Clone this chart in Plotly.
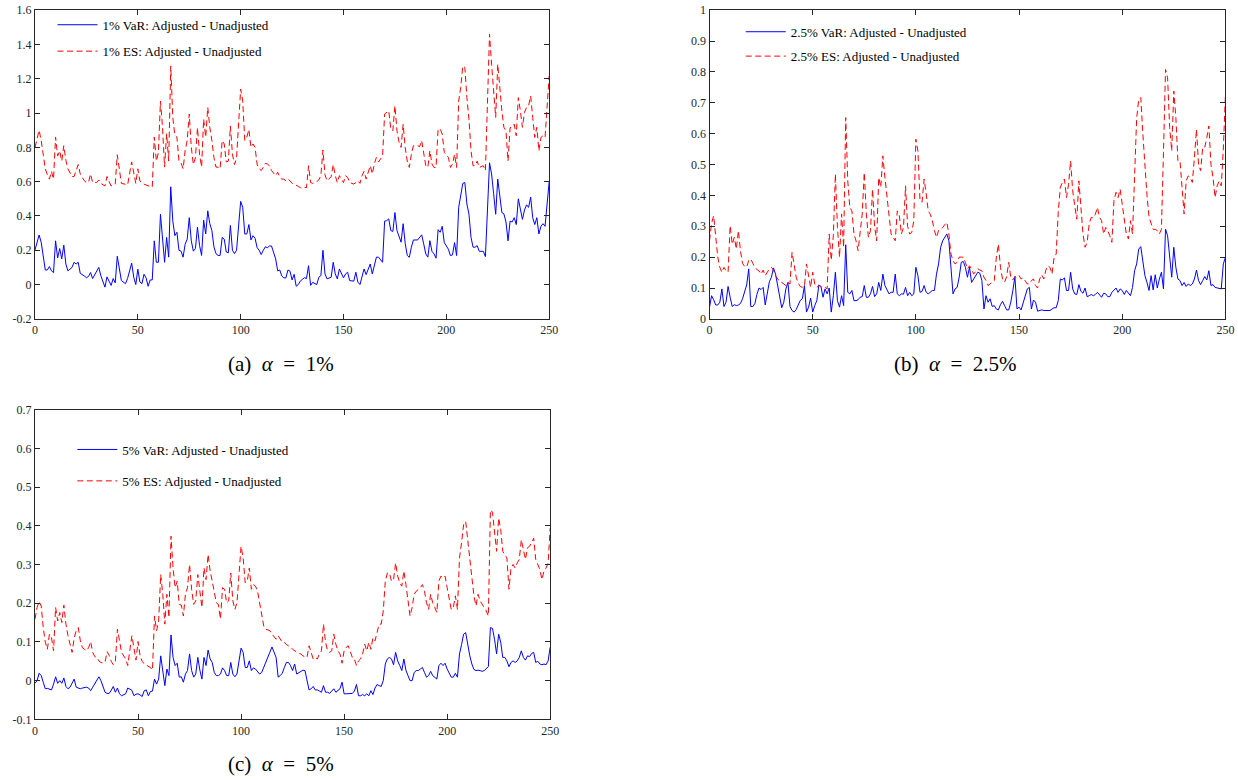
import plotly.graph_objects as go

# ---------------- Panel (a): alpha = 1% ----------------
day_a = [0, 2, 3, 5, 6, 7, 8, 9, 10, 11, 12, 13, 14, 15, 16, 18, 19, 20, 21, 22,
         24, 25, 26, 27, 28, 30, 31, 32, 34, 35, 37, 38, 39, 40, 41, 42, 44, 45, 47, 48,
         49, 50, 51, 52, 53, 54, 55, 56, 57, 58, 59, 60, 61, 62, 63, 64, 65, 66, 67, 68,
         69, 70, 71, 72, 73, 74, 75, 76, 77, 78, 79, 80, 81, 82, 83, 84, 85, 86, 87, 88,
         89, 90, 91, 92, 93, 94, 95, 96, 97, 98, 100, 101, 102, 103, 104, 105, 106, 107, 108, 109,
         110, 111, 112, 113, 114, 115, 117, 118, 119, 120, 121, 122, 123, 124, 125, 126, 127, 128, 129, 130,
         131, 132, 133, 134, 135, 137, 138, 139, 140, 141, 142, 144, 145, 146, 147, 148, 150, 151, 152, 153,
         155, 156, 157, 158, 159, 160, 161, 163, 164, 165, 166, 167, 169, 170, 171, 172, 173, 174, 175, 176,
         177, 178, 179, 180, 181, 182, 183, 184, 186, 187, 188, 189, 190, 191, 192, 193, 194, 195, 196, 197,
         198, 199, 201, 202, 203, 204, 205, 206, 207, 208, 209, 210, 211, 212, 213, 214, 215, 216, 218, 219,
         221, 222, 223, 224, 225, 226, 227, 228, 229, 230, 231, 232, 233, 234, 235, 236, 237, 238, 239, 240,
         241, 242, 243, 244, 245, 246, 247, 248, 249, 250]
var_a = [0.202, 0.289, 0.247, 0.085, 0.085, 0.105, 0.080, 0.070, 0.255, 0.155, 0.210, 0.150, 0.230, 0.120, 0.080, 0.100, 0.130, 0.120, 0.130, 0.065,
         0.050, 0.040, 0.047, 0.070, 0.035, 0.080, 0.100, 0.052, -0.015, 0.045, -0.005, 0.035, 0.010, 0.165, 0.080, 0.023, 0.005, 0.035, 0.125, 0.043,
         0.000, 0.090, 0.015, 0.005, 0.060, 0.039, -0.010, 0.027, 0.027, 0.255, 0.130, 0.130, 0.410, 0.255, 0.130, 0.275, 0.160, 0.570, 0.370, 0.285,
         0.305, 0.200, 0.195, 0.160, 0.235, 0.265, 0.390, 0.255, 0.195, 0.210, 0.335, 0.228, 0.170, 0.375, 0.295, 0.430, 0.355, 0.315, 0.220, 0.180,
         0.170, 0.170, 0.275, 0.265, 0.190, 0.185, 0.345, 0.200, 0.180, 0.200, 0.485, 0.450, 0.295, 0.295, 0.350, 0.260, 0.285, 0.270, 0.215, 0.200,
         0.175, 0.200, 0.220, 0.215, 0.225, 0.225, 0.150, 0.080, 0.085, 0.050, 0.039, 0.039, 0.085, 0.078, 0.027, 0.060, -0.010, 0.000, 0.020, 0.030,
         0.040, 0.035, 0.110, -0.005, 0.013, 0.000, 0.043, 0.052, 0.200, 0.062, 0.033, 0.043, 0.130, 0.062, 0.033, 0.091, 0.039, 0.062, 0.072, 0.023,
         0.020, 0.072, 0.014, 0.000, 0.043, 0.091, 0.058, 0.120, 0.062, 0.120, 0.160, 0.160, 0.130, 0.370, 0.373, 0.383, 0.315, 0.310, 0.420, 0.315,
         0.285, 0.247, 0.355, 0.240, 0.170, 0.159, 0.218, 0.260, 0.260, 0.272, 0.290, 0.237, 0.179, 0.160, 0.256, 0.194, 0.179, 0.154, 0.320, 0.305,
         0.340, 0.245, 0.206, 0.169, 0.173, 0.245, 0.169, 0.450, 0.510, 0.590, 0.595, 0.470, 0.410, 0.275, 0.218, 0.218, 0.227, 0.194, 0.194, 0.163,
         0.710, 0.645, 0.530, 0.410, 0.615, 0.510, 0.420, 0.412, 0.365, 0.255, 0.370, 0.365, 0.390, 0.350, 0.500, 0.440, 0.380, 0.435, 0.465, 0.450,
         0.510, 0.390, 0.350, 0.390, 0.295, 0.340, 0.355, 0.340, 0.490, 0.600]
es_a = [0.800, 0.900, 0.840, 0.675, 0.640, 0.615, 0.660, 0.615, 0.860, 0.750, 0.780, 0.720, 0.810, 0.725, 0.675, 0.630, 0.630, 0.665, 0.700, 0.645,
        0.605, 0.595, 0.595, 0.645, 0.595, 0.595, 0.610, 0.590, 0.575, 0.630, 0.575, 0.580, 0.585, 0.757, 0.655, 0.590, 0.585, 0.580, 0.715, 0.645,
        0.590, 0.675, 0.605, 0.590, 0.585, 0.580, 0.575, 0.573, 0.567, 0.860, 0.720, 0.771, 1.070, 0.917, 0.685, 0.880, 0.720, 1.275, 0.975, 0.870,
        0.860, 0.720, 0.710, 0.675, 0.780, 0.840, 0.995, 0.800, 0.700, 0.740, 0.915, 0.761, 0.685, 0.965, 0.860, 1.033, 0.915, 0.840, 0.740, 0.685,
        0.685, 0.675, 0.840, 0.820, 0.715, 0.720, 0.925, 0.760, 0.700, 0.740, 1.140, 1.070, 0.840, 0.860, 0.905, 0.800, 0.820, 0.800, 0.700, 0.675,
        0.665, 0.685, 0.707, 0.703, 0.693, 0.665, 0.635, 0.655, 0.625, 0.615, 0.615, 0.605, 0.615, 0.605, 0.590, 0.585, 0.580, 0.573, 0.565, 0.562,
        0.567, 0.565, 0.693, 0.595, 0.590, 0.600, 0.610, 0.635, 0.785, 0.640, 0.605, 0.629, 0.700, 0.635, 0.595, 0.635, 0.595, 0.635, 0.625, 0.595,
        0.586, 0.595, 0.605, 0.590, 0.635, 0.660, 0.615, 0.693, 0.645, 0.705, 0.742, 0.715, 0.750, 0.995, 1.004, 1.013, 0.907, 0.897, 1.043, 0.897,
        0.830, 0.800, 0.935, 0.800, 0.720, 0.683, 0.760, 0.810, 0.810, 0.804, 0.840, 0.771, 0.693, 0.683, 0.780, 0.703, 0.683, 0.683, 0.907, 0.907,
        0.878, 0.771, 0.742, 0.683, 0.703, 0.760, 0.683, 1.070, 1.150, 1.275, 1.265, 1.090, 0.965, 0.780, 0.693, 0.693, 0.720, 0.683, 0.693, 0.665,
        1.460, 1.285, 1.110, 0.975, 1.285, 1.130, 1.013, 0.917, 0.897, 0.720, 0.915, 0.917, 0.935, 0.868, 1.090, 1.013, 0.917, 1.004, 1.033, 1.043,
        1.100, 0.975, 0.858, 0.917, 0.780, 0.858, 0.868, 0.858, 1.013, 1.217]

# ---------------- Panel (b): alpha = 2.5% ----------------
day_b = list(range(0, 251))
var_b = [0.038, 0.075, 0.062, 0.045, 0.045, 0.054, 0.097, 0.040, 0.054, 0.105,
         0.070, 0.040, 0.046, 0.043, 0.045, 0.050, 0.065, 0.085, 0.110, 0.162,
         0.040, 0.040, 0.050, 0.080, 0.100, 0.095, 0.102, 0.045, 0.080, 0.120,
         0.135, 0.165, 0.145, 0.110, 0.070, 0.036, 0.054, 0.097, 0.118, 0.040,
         0.027, 0.022, 0.030, 0.045, 0.060, 0.065, 0.108, 0.022, 0.038, 0.067,
         0.022, 0.043, 0.059, 0.110, 0.105, 0.070, 0.097, 0.081, 0.100, 0.022,
         0.075, 0.151, 0.059, 0.038, 0.075, 0.043, 0.240, 0.086, 0.081, 0.092,
         0.059, 0.059, 0.062, 0.070, 0.072, 0.108, 0.070, 0.070, 0.081, 0.105,
         0.072, 0.081, 0.118, 0.092, 0.145, 0.108, 0.092, 0.081, 0.086, 0.086,
         0.145, 0.081, 0.075, 0.081, 0.080, 0.102, 0.075, 0.086, 0.075, 0.081,
         0.167, 0.140, 0.086, 0.089, 0.108, 0.086, 0.081, 0.086, 0.092, 0.092,
         0.145, 0.178, 0.232, 0.253, 0.264, 0.275, 0.253, 0.167, 0.081, 0.097,
         0.102, 0.135, 0.183, 0.186, 0.167, 0.135, 0.167, 0.118, 0.129, 0.140,
         0.151, 0.148, 0.124, 0.032, 0.075, 0.054, 0.065, 0.040, 0.043, 0.032,
         0.029, 0.046, 0.057, 0.043, 0.029, 0.029, 0.054, 0.092, 0.137, 0.032,
         0.038, 0.029, 0.054, 0.081, 0.097, 0.102, 0.032, 0.061, 0.054, 0.025,
         0.027, 0.029, 0.027, 0.027, 0.029, 0.027, 0.032, 0.036, 0.036, 0.059,
         0.129, 0.126, 0.133, 0.092, 0.092, 0.151, 0.097, 0.081, 0.079, 0.111,
         0.089, 0.083, 0.100, 0.072, 0.075, 0.079, 0.075, 0.079, 0.086, 0.079,
         0.070, 0.083, 0.081, 0.072, 0.072, 0.086, 0.094, 0.100, 0.086, 0.097,
         0.092, 0.079, 0.092, 0.083, 0.075, 0.102, 0.156, 0.178, 0.226, 0.234,
         0.178, 0.140, 0.118, 0.092, 0.140, 0.094, 0.143, 0.100, 0.129, 0.151,
         0.097, 0.291, 0.269, 0.194, 0.135, 0.232, 0.167, 0.129, 0.124, 0.108,
         0.118, 0.105, 0.113, 0.108, 0.113, 0.129, 0.158, 0.124, 0.111, 0.124,
         0.137, 0.126, 0.156, 0.108, 0.111, 0.102, 0.100, 0.097, 0.097, 0.178,
         0.199]
es_b = [0.253, 0.310, 0.334, 0.275, 0.200, 0.167, 0.151, 0.167, 0.156, 0.151,
        0.302, 0.242, 0.264, 0.226, 0.286, 0.220, 0.180, 0.170, 0.168, 0.189,
        0.194, 0.180, 0.165, 0.160, 0.155, 0.145, 0.158, 0.140, 0.150, 0.162,
        0.167, 0.158, 0.140, 0.128, 0.120, 0.118, 0.113, 0.108, 0.118, 0.113,
        0.216, 0.170, 0.135, 0.115, 0.105, 0.102, 0.105, 0.178, 0.135, 0.102,
        0.151, 0.113, 0.102, 0.108, 0.105, 0.100, 0.102, 0.097, 0.275, 0.190,
        0.270, 0.469, 0.296, 0.200, 0.340, 0.232, 0.652, 0.447, 0.361, 0.350,
        0.275, 0.253, 0.221, 0.286, 0.340, 0.474, 0.340, 0.264, 0.286, 0.420,
        0.300, 0.253, 0.458, 0.426, 0.528, 0.458, 0.390, 0.329, 0.275, 0.264,
        0.253, 0.350, 0.334, 0.275, 0.296, 0.431, 0.300, 0.275, 0.280, 0.318,
        0.582, 0.544, 0.383, 0.378, 0.453, 0.405, 0.350, 0.339, 0.318, 0.286,
        0.264, 0.286, 0.291, 0.296, 0.305, 0.313, 0.275, 0.210, 0.189, 0.178,
        0.183, 0.200, 0.200, 0.200, 0.183, 0.162, 0.172, 0.162, 0.145, 0.154,
        0.162, 0.158, 0.156, 0.135, 0.124, 0.108, 0.115, 0.119, 0.124, 0.200,
        0.242, 0.167, 0.129, 0.119, 0.137, 0.183, 0.135, 0.126, 0.137, 0.133,
        0.140, 0.129, 0.133, 0.124, 0.113, 0.113, 0.124, 0.129, 0.108, 0.100,
        0.129, 0.143, 0.129, 0.158, 0.172, 0.167, 0.145, 0.200, 0.210, 0.345,
        0.426, 0.442, 0.453, 0.393, 0.436, 0.512, 0.415, 0.366, 0.323, 0.447,
        0.361, 0.275, 0.232, 0.248, 0.307, 0.329, 0.327, 0.339, 0.361, 0.329,
        0.318, 0.275, 0.296, 0.286, 0.269, 0.248, 0.383, 0.410, 0.393, 0.420,
        0.372, 0.329, 0.275, 0.259, 0.318, 0.275, 0.500, 0.650, 0.710, 0.717,
        0.600, 0.480, 0.400, 0.330, 0.310, 0.290, 0.290, 0.286, 0.275, 0.290,
        0.540, 0.808, 0.781, 0.620, 0.544, 0.738, 0.652, 0.512, 0.512, 0.426,
        0.340, 0.447, 0.463, 0.458, 0.442, 0.523, 0.614, 0.500, 0.480, 0.555,
        0.555, 0.587, 0.625, 0.500, 0.458, 0.393, 0.431, 0.447, 0.431, 0.550,
        0.720]

# ---------------- Panel (c): alpha = 5% ----------------
day_c = [0, 1, 2, 3, 4, 5, 6, 7, 8, 9, 10, 11, 12, 13, 14, 15, 16, 17, 18, 19,
         20, 21, 22, 23, 24, 25, 26, 27, 28, 29, 30, 31, 32, 33, 34, 35, 36, 37, 38, 39,
         40, 41, 42, 44, 45, 47, 48, 49, 50, 51, 52, 53, 54, 55, 56, 57, 58, 59, 60, 61,
         62, 63, 64, 65, 66, 67, 68, 69, 70, 71, 72, 73, 74, 75, 76, 77, 78, 79, 80, 81,
         82, 83, 84, 85, 86, 87, 88, 89, 90, 91, 92, 93, 94, 95, 96, 97, 98, 100, 101, 102,
         103, 104, 105, 106, 107, 108, 109, 110, 111, 112, 113, 114, 115, 117, 118, 119, 120, 121, 122, 123,
         124, 125, 126, 127, 128, 129, 130, 131, 132, 133, 134, 135, 136, 137, 138, 139, 140, 141, 142, 143,
         144, 145, 146, 147, 148, 149, 150, 151, 152, 153, 154, 155, 156, 157, 158, 159, 160, 161, 162, 163,
         164, 165, 166, 167, 168, 169, 170, 171, 172, 173, 174, 175, 176, 177, 178, 179, 180, 181, 182, 183,
         184, 185, 186, 187, 188, 189, 190, 191, 192, 193, 194, 195, 196, 197, 198, 199, 200, 201, 202, 203,
         204, 205, 206, 207, 208, 209, 210, 211, 212, 213, 214, 215, 216, 217, 218, 219, 220, 221, 222, 223,
         224, 225, 226, 227, 228, 229, 230, 231, 232, 233, 234, 235, 236, 237, 238, 239, 240, 241, 242, 243,
         244, 245, 246, 247, 248, 249, 250]
var_c = [-0.007, 0.000, 0.019, 0.013, -0.004, -0.021, -0.020, -0.022, -0.024, -0.009, 0.010, -0.007, 0.000, -0.007, 0.007, -0.015, -0.021, -0.017, -0.007, 0.004,
         -0.017, -0.019, -0.021, -0.019, -0.017, -0.017, -0.019, -0.026, -0.017, -0.008, 0.000, 0.010, 0.000, -0.015, -0.030, -0.033, -0.033, -0.025, -0.015, -0.030,
         -0.019, -0.034, -0.039, -0.034, -0.019, -0.025, -0.039, -0.035, -0.034, -0.037, -0.041, -0.026, -0.024, -0.039, -0.028, -0.027, 0.004, -0.009, 0.004, 0.064,
         0.026, -0.013, 0.030, 0.013, 0.118, 0.060, 0.039, 0.045, 0.009, 0.010, -0.004, 0.017, 0.026, 0.069, 0.026, 0.009, 0.017, 0.060, 0.027, 0.004,
         0.060, 0.039, 0.079, 0.056, 0.047, 0.021, 0.013, 0.013, 0.017, 0.033, 0.026, 0.013, 0.013, 0.047, 0.017, 0.010, 0.017, 0.084, 0.073, 0.034,
         0.034, 0.051, 0.026, 0.033, 0.030, 0.024, 0.017, 0.021, 0.034, 0.051, 0.060, 0.073, 0.087, 0.060, 0.009, 0.013, 0.019, 0.034, 0.047, 0.047,
         0.039, 0.026, 0.043, 0.017, 0.021, 0.024, 0.027, 0.026, 0.000, -0.024, -0.021, -0.015, -0.024, -0.024, -0.027, -0.030, -0.013, -0.030, -0.030, -0.033,
         -0.027, -0.021, -0.030, -0.026, -0.021, -0.004, -0.034, -0.034, -0.034, -0.034, -0.033, -0.027, -0.010, -0.039, -0.039, -0.036, -0.039, -0.034, -0.039, -0.026,
         -0.036, -0.019, -0.010, -0.013, -0.015, 0.000, 0.043, 0.056, 0.060, 0.056, 0.041, 0.073, 0.051, 0.039, 0.026, 0.056, 0.027, 0.013, 0.000, 0.000,
         0.021, 0.026, 0.026, 0.030, 0.034, 0.021, 0.009, 0.013, 0.024, 0.013, 0.009, 0.004, 0.039, 0.045, 0.039, 0.045, 0.030, 0.021, 0.009, 0.009,
         0.019, 0.009, 0.069, 0.093, 0.120, 0.124, 0.090, 0.064, 0.043, 0.029, 0.026, 0.027, 0.026, 0.024, 0.026, 0.031, 0.036, 0.137, 0.135, 0.107,
         0.069, 0.120, 0.099, 0.060, 0.060, 0.051, 0.036, 0.047, 0.051, 0.047, 0.051, 0.060, 0.077, 0.060, 0.053, 0.064, 0.062, 0.070, 0.073, 0.047,
         0.050, 0.043, 0.041, 0.043, 0.041, 0.051, 0.086]
es_c = [0.159, 0.189, 0.204, 0.193, 0.137, 0.099, 0.081, 0.120, 0.111, 0.077, 0.189, 0.154, 0.176, 0.150, 0.195, 0.146, 0.116, 0.096, 0.073, 0.110,
        0.129, 0.137, 0.103, 0.085, 0.081, 0.077, 0.085, 0.101, 0.073, 0.062, 0.060, 0.051, 0.047, 0.045, 0.048, 0.075, 0.065, 0.050, 0.041, 0.050,
        0.133, 0.103, 0.073, 0.056, 0.039, 0.116, 0.085, 0.053, 0.101, 0.064, 0.050, 0.043, 0.040, 0.037, 0.034, 0.027, 0.167, 0.129, 0.154, 0.274,
        0.223, 0.146, 0.223, 0.163, 0.373, 0.291, 0.240, 0.257, 0.197, 0.195, 0.167, 0.223, 0.240, 0.300, 0.236, 0.197, 0.206, 0.274, 0.223, 0.189,
        0.291, 0.261, 0.326, 0.283, 0.257, 0.223, 0.201, 0.197, 0.159, 0.240, 0.236, 0.201, 0.206, 0.278, 0.206, 0.184, 0.201, 0.347, 0.317, 0.253,
        0.257, 0.291, 0.236, 0.248, 0.244, 0.231, 0.197, 0.163, 0.141, 0.133, 0.131, 0.129, 0.120, 0.107, 0.116, 0.107, 0.099, 0.099, 0.093, 0.090,
        0.087, 0.081, 0.077, 0.073, 0.070, 0.069, 0.064, 0.062, 0.060, 0.090, 0.070, 0.056, 0.060, 0.056, 0.069, 0.077, 0.146, 0.099, 0.077, 0.073,
        0.077, 0.120, 0.094, 0.077, 0.069, 0.045, 0.077, 0.086, 0.090, 0.073, 0.060, 0.056, 0.039, 0.051, 0.056, 0.069, 0.094, 0.077, 0.099, 0.081,
        0.111, 0.103, 0.129, 0.146, 0.146, 0.180, 0.257, 0.278, 0.278, 0.257, 0.261, 0.304, 0.270, 0.253, 0.244, 0.283, 0.248, 0.210, 0.167, 0.189,
        0.223, 0.231, 0.236, 0.240, 0.248, 0.231, 0.201, 0.184, 0.223, 0.201, 0.189, 0.176, 0.257, 0.270, 0.266, 0.270, 0.240, 0.214, 0.184, 0.189,
        0.219, 0.184, 0.317, 0.356, 0.403, 0.411, 0.360, 0.308, 0.266, 0.219, 0.193, 0.223, 0.206, 0.197, 0.189, 0.180, 0.167, 0.441, 0.435, 0.386,
        0.334, 0.420, 0.390, 0.334, 0.326, 0.317, 0.236, 0.291, 0.300, 0.291, 0.304, 0.313, 0.364, 0.334, 0.313, 0.343, 0.347, 0.356, 0.368, 0.313,
        0.300, 0.287, 0.261, 0.283, 0.291, 0.304, 0.394]

# ---------------- Axis ticks and labels ----------------
x_ticks = [0, 50, 100, 150, 200, 250]
y_ticks_a = [-0.2, 0, 0.2, 0.4, 0.6, 0.8, 1.0, 1.2, 1.4, 1.6]
y_text_a = ["-0.2", "0", "0.2", "0.4", "0.6", "0.8", "1", "1.2", "1.4", "1.6"]
y_ticks_b = [0, 0.1, 0.2, 0.3, 0.4, 0.5, 0.6, 0.7, 0.8, 0.9, 1.0]
y_text_b = ["0", "0.1", "0.2", "0.3", "0.4", "0.5", "0.6", "0.7", "0.8", "0.9", "1"]
y_ticks_c = [-0.1, 0, 0.1, 0.2, 0.3, 0.4, 0.5, 0.6, 0.7]
y_text_c = ["-0.1", "0", "0.1", "0.2", "0.3", "0.4", "0.5", "0.6", "0.7"]

names = {
    "a": ("1% VaR: Adjusted - Unadjusted", "1% ES: Adjusted - Unadjusted"),
    "b": ("2.5% VaR: Adjusted - Unadjusted", "2.5% ES: Adjusted - Unadjusted"),
    "c": ("5% VaR: Adjusted - Unadjusted", "5% ES: Adjusted - Unadjusted"),
}
captions = ["(a)\u2002<i>α</i>\u2002=\u20021%", "(b)\u2002<i>α</i>\u2002=\u20022.5%", "(c)\u2002<i>α</i>\u2002=\u20025%"]

W, H = 1238, 780
BLUE = "#0000FF"
RED = "#FF0000"
AX = "#262626"
SERIF = "Liberation Serif"
DASH = "6px,3.5px"

# the captured page is drawn slightly inset/scaled; map target picture pixels to paper
SX, OX = 0.99, 3.0
SY, OY = 0.985, 5.5


def px_x(p):
    return (p - OX) / SX / W


def px_y(p):
    return 1 - (p - OY) / SY / H


fig = go.Figure()

panels = [
    ("a", day_a, var_a, es_a, "x", "y", "legend"),
    ("b", day_b, var_b, es_b, "x2", "y2", "legend2"),
    ("c", day_c, var_c, es_c, "x3", "y3", "legend3"),
]
for key, xs, v, e, xa, ya, lg in panels:
    fig.add_trace(go.Scatter(x=xs, y=v, mode="lines", name=names[key][0],
                             line=dict(color=BLUE, width=1), xaxis=xa, yaxis=ya,
                             legend=lg, legendgroup=key + "1"))
    fig.add_trace(go.Scatter(x=xs, y=e, mode="lines", name=names[key][1],
                             line=dict(color=RED, width=1, dash=DASH), xaxis=xa, yaxis=ya,
                             legend=lg, legendgroup=key + "2"))


def xaxis_cfg(dom, anchor):
    return dict(domain=dom, anchor=anchor, range=[0, 250], tickvals=x_ticks,
                ticks="inside", ticklen=5, tickwidth=1, tickcolor=AX,
                showline=True, linecolor=AX, linewidth=1, mirror="ticks",
                showgrid=False, zeroline=False,
                tickfont=dict(family=SERIF, size=12, color=AX))


def yaxis_cfg(dom, anchor, rng, tv, tt):
    return dict(domain=dom, anchor=anchor, range=rng, tickvals=tv, ticktext=tt,
                ticks="inside", ticklen=5, tickwidth=1, tickcolor=AX,
                showline=True, linecolor=AX, linewidth=1, mirror="ticks",
                showgrid=False, zeroline=False,
                tickfont=dict(family=SERIF, size=12, color=AX))


def legend_cfg(x, y, gap):
    return dict(x=x, y=y, xanchor="left", yanchor="top", bgcolor="rgba(0,0,0,0)",
                borderwidth=0, font=dict(family=SERIF, size=13, color="#000000"),
                tracegroupgap=gap, itemwidth=40, traceorder="grouped")


fig.update_layout(
    width=W, height=H,
    margin=dict(l=0, r=0, t=0, b=0),
    paper_bgcolor="white", plot_bgcolor="white",
    showlegend=True,
    xaxis=xaxis_cfg([px_x(35), px_x(549)], "y"),
    yaxis=yaxis_cfg([px_y(318.3), px_y(8.7)], "x", [-0.2, 1.6], y_ticks_a, y_text_a),
    xaxis2=xaxis_cfg([px_x(709.3), px_x(1225)], "y2"),
    yaxis2=yaxis_cfg([px_y(318.3), px_y(8.7)], "x2", [0, 1], y_ticks_b, y_text_b),
    xaxis3=xaxis_cfg([px_x(35), px_x(550)], "y3"),
    yaxis3=yaxis_cfg([px_y(720), px_y(409.3)], "x3", [-0.1, 0.7], y_ticks_c, y_text_c),
    legend=legend_cfg(px_x(52.5), px_y(8.3), 6.5),
    legend2=legend_cfg(px_x(740.5), px_y(15.3), 4.5),
    legend3=legend_cfg(px_x(72.3), px_y(434.3), 11.5),
)

cap_pos = [(280.5, 364), (955, 364), (280.5, 765)]
for txt, (cx, cy) in zip(captions, cap_pos):
    fig.add_annotation(x=px_x(cx), y=px_y(cy), xref="paper", yref="paper",
                       text=txt, showarrow=False, xanchor="center", yanchor="middle",
                       font=dict(family=SERIF, size=21, color="#000000"))

fig.write_html("out.html")
